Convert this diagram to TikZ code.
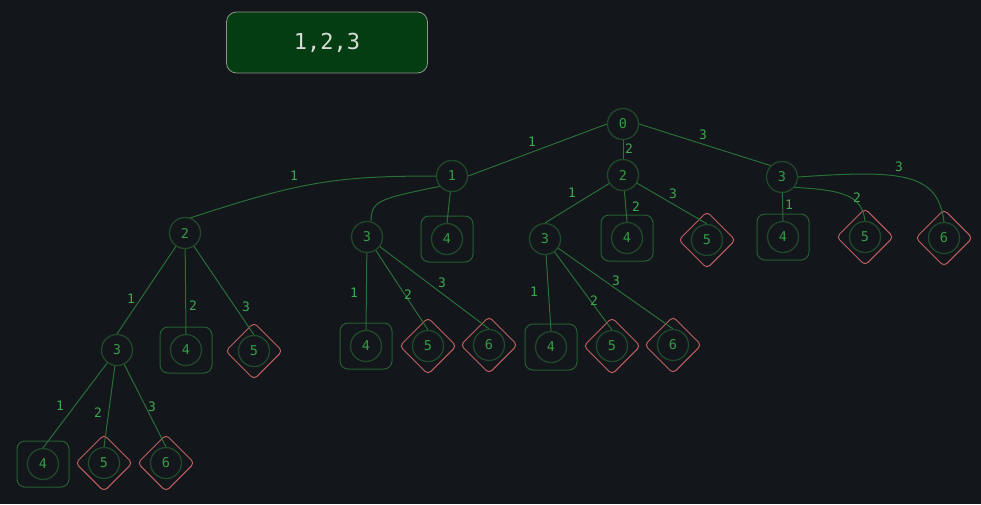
\documentclass[tikz,border=0pt]{standalone}
\usepackage{fontspec}
\newfontfamily\monofont{DejaVu Sans Mono}
\definecolor{bgdark}{RGB}{19,22,27}
\definecolor{titlefill}{RGB}{4,61,17}
\definecolor{titleborder}{RGB}{140,150,140}
\definecolor{titletext}{RGB}{215,220,215}
\definecolor{vertline}{RGB}{32,72,42}
\definecolor{vertext}{RGB}{55,155,70}
\definecolor{edgeline}{RGB}{42,110,56}
\definecolor{labeltext}{RGB}{62,168,78}
\definecolor{boxline}{RGB}{38,95,50}
\definecolor{diamline}{RGB}{190,95,95}
\newcommand{\vertfont}{\monofont\fontsize{13.5}{13.5}\selectfont}
\newcommand{\edgefont}{\monofont\fontsize{13}{13}\selectfont}
\newcommand{\titlefont}{\monofont\fontsize{22}{22}\selectfont}
\tikzset{
  titlebox/.style={rectangle, rounded corners=10pt, fill=titlefill, draw=titleborder,
    line width=0.8pt, minimum width=201pt, minimum height=61pt, text=titletext, font=\titlefont},
  vert/.style={circle, draw=vertline, line width=1.3pt, minimum size=31pt, inner sep=0pt,
    text=vertext, font=\vertfont},
  okbox/.style={rectangle, rounded corners=8pt, draw=boxline, line width=1pt,
    minimum width=52pt, minimum height=46pt},
  badbox/.style={rectangle, rotate=45, rounded corners=4pt, draw=diamline, line width=1pt,
    minimum size=40pt},
  edge/.style={draw=edgeline, line width=1pt},
  elabel/.style={text=labeltext, font=\edgefont, inner sep=0pt}
}
\begin{document}
\begin{tikzpicture}[x=1pt,y=-1pt]
  \fill[bgdark] (0,0) rectangle (981,504);
  \useasboundingbox (0,0) rectangle (981,504);
  \node[titlebox] (title) at (327,42.5) {1,2,3};
  % inner vertices
  \node[vert] (v0) at (623,124) {0};
  \node[vert] (v1) at (452,176) {1};
  \node[vert] (v2) at (623,175) {2};
  \node[vert] (v3) at (782,177) {3};
  \node[vert] (v12) at (185,233) {2};
  \node[vert] (v13) at (367,237) {3};
  \node[vert] (v23) at (545,239) {3};
  \node[vert] (v123) at (117,350) {3};
  % leaves that hit the target
  \foreach \nm/\x/\y in {14/447/239, 24/627/238, 34/783/237, 124/186/350,
                         134/366/346, 234/551/347, 1234/43/464}{
    \node[okbox] (f\nm) at (\x,\y) {};
    \node[vert] (v\nm) at (\x,\y) {4};
  }
  % leaves that overshoot
  \foreach \nm/\x/\y/\t in {25/707/240/5, 35/865/237/5, 36/944/238/6, 125/254/351/5,
                            135/428/346/5, 136/489/345/6, 235/612/346/5, 236/673/345/6,
                            1235/104/463/5, 1236/166/463/6}{
    \node[badbox] (f\nm) at (\x,\y) {};
    \node[vert] (v\nm) at (\x,\y) {\t};
  }
  % edges
  \draw[edge] (v0.west) -- (v1.east) node[elabel] at (532,142) {1};
  \draw[edge] (v0.east) -- (v3.135) node[elabel] at (703,135) {3};
  \draw[edge] (v1) -- (v14.north);
  \draw[edge] (v1.west) .. controls (335,176) and (300,182) .. (v12.70)
    node[elabel] at (294,176) {1};
  \draw[edge] (v1.220) .. controls (378,199) and (371,201) .. (v13.75);
  \draw[edge] (v3.320) .. controls (842,190) and (862,195) .. (v35.north)
    node[elabel] at (857,198) {2};
  \draw[edge] (v3.east) .. controls (900,170) and (938,172) .. (v36.north)
    node[elabel] at (899,167) {3};
  \foreach \a/\b/\lx/\ly/\t in {0/2/629/149/2, 2/23/572/193/1, 2/24/636/207/2, 2/25/673/194/3,
                                3/34/789/205/1, 12/123/131/299/1, 12/124/193/306/2,
                                12/125/246/307/3, 13/134/354/293/1, 13/135/408/295/2,
                                13/136/442/283/3, 23/234/534/292/1, 23/235/594/301/2,
                                23/236/616/281/3, 123/1234/60/406/1, 123/1235/98/413/2,
                                123/1236/152/407/3}
    \draw[edge] (v\a) -- (v\b.north) node[elabel] at (\lx,\ly) {\t};
\end{tikzpicture}
\end{document}
